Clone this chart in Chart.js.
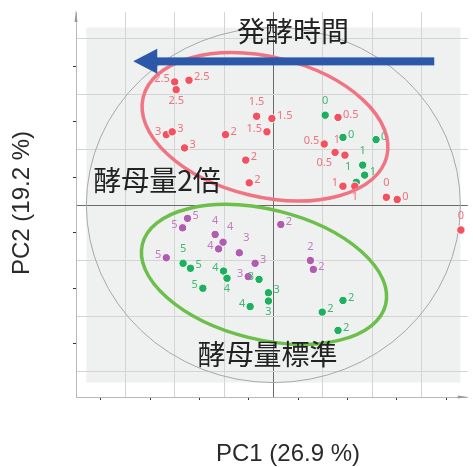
<!DOCTYPE html>
<html>
<head>
<meta charset="utf-8">
<script src="https://cdn.jsdelivr.net/npm/chart.js@4"></script>
<style>
  html, body { margin: 0; padding: 0; background: #fff; }
  #wrap { width: 473px; height: 467px; }
</style>
</head>
<body>
<div id="wrap"><canvas id="pcaChart"></canvas></div>
<script>
// PCA score plot: 酵母量2倍 (red) / 酵母量標準 (green, purple), labels = 発酵時間

// tick positions (axis units)
const xTicks = [-3.5, -3, -2.5, -2, -1.5, -1, -0.5, 0, 0.5, 1, 1.5, 2, 2.5, 3, 3.5];
const yTicks = [-3, -2.5, -2, -1.5, -1, -0.5, 0, 0.5, 1, 1.5, 2, 2.5, 3];

// 酵母量2倍
const redX = [-2.00, -1.71, -1.97, -0.34, -0.13, -0.03, -2.17, -2.05, -1.80, -0.97, -0.56, -0.49, 1.31, 1.03, 1.25, 1.45, 1.41, 1.65, 2.29, 2.51, 3.80];
const redY = [2.22, 2.25, 2.08, 1.60, 1.32, 1.56, 1.27, 1.32, 1.03, 1.27, 0.81, 0.40, 1.58, 1.10, 0.95, 0.90, 0.34, 0.34, 0.14, 0.10, -0.45];
const redLabels = ['2.5', '2.5', '2.5', '1.5', '1.5', '1.5', '3', '3', '3', '2', '2', '2', '0.5', '0.5', '0.5', '1', '1', '1', '0', '0', '0'];

// 酵母量標準 (green)
const greenX = [1.05, 1.41, 2.08, 1.81, 1.85, 1.68, -1.83, -1.68, -1.43, -1.01, -0.94, -0.47, -0.29, -0.10, -0.10, 1.41, 0.99, 1.31];
const greenY = [1.62, 1.22, 1.18, 0.72, 0.54, 0.41, -1.05, -1.14, -1.50, -1.19, -1.32, -1.83, -1.34, -1.58, -1.73, -1.72, -1.93, -2.26];
const greenLabels = ['0', '0', '0', '1', '1', '1', '5', '5', '5', '4', '4', '4', '3', '3', '3', '2', '2', '2'];

// 酵母量標準 (purple)
const purpleX = [-1.74, -1.84, -1.18, -1.02, -1.11, -0.69, -2.17, -0.37, -0.51, 0.15, 0.75, 0.81];
const purpleY = [-0.24, -0.41, -0.53, -0.67, -0.79, -0.86, -0.95, -1.05, -1.29, -0.35, -1.00, -1.16];
const purpleLabels = ['5', '5', '4', '4', '4', '3', '5', '3', '3', '2', '2', '2'];

// where each label sits relative to its point
const redSide = ['l', 'r', 'b', 't', 'l', 'r', 'l', 'r', 'r', 'r', 'r', 'r', 'r', 'l', 'bl', 'tl', 'l', 'b', 't', 'r', 't'];
const greenSide = ['t', 'r', 'r', 't', 'r', 'tl', 't', 'r', 'l', 'l', 'b', 'l', 'l', 'r', 'b', 'r', 'r', 'r'];
const purpleSide = ['r', 'l', 't', 'tr', 'l', 'tr', 'l', 'r', 'l', 'r', 't', 'r'];

const sideOffsets = {
  r: [5, -3, 'left'], l: [-5, -3, 'right'], t: [0, -14, 'center'], b: [0, 11, 'center'],
  tl: [-5, -15, 'right'], tr: [4, -15, 'left'], bl: [-3, 11, 'right']
};

const circle = { cx: 0, cy: 0, rx: 3.79, ry: 3.2 };
const ellipses = [
  { cx: -0.17, cy: 1.41, rx: 2.54, ry: 1.26, rot: 13.6, color: '#f07482' },
  { cx: -0.19, cy: -1.25, rx: 2.54, ry: 1.17, rot: 14, color: '#6dbf4b' }
];
const arrow = { x0: 3.26, x1: -2.84, y: 2.59 };
const notes = [
  { text: '発酵時間', x: 0.40, y: 3.14 },
  { text: '酵母量2倍', x: -2.36, y: 0.45 },
  { text: '酵母量標準', x: -0.12, y: -2.70 }
];

function toPoints(xs, ys) {
  return xs.map((x, i) => ({ x: x, y: ys[i] }));
}

function makeSet(label, xs, ys, color, labels, sides, labelColor) {
  return {
    label: label,
    data: toPoints(xs, ys),
    backgroundColor: color,
    borderColor: '#ffffff',
    borderWidth: 1,
    pointRadius: 4.2,
    pointLabels: labels,
    pointSides: sides,
    labelColor: labelColor
  };
}

const decorPlugin = {
  id: 'decor',
  beforeDraw(chart) {
    const { ctx, scales: { x, y } } = chart;
    // light gray panel = bounding box of the circle
    const l = x.getPixelForValue(circle.cx - circle.rx);
    const r = x.getPixelForValue(circle.cx + circle.rx);
    const t = y.getPixelForValue(circle.cy + circle.ry);
    const b = y.getPixelForValue(circle.cy - circle.ry);
    ctx.save();
    ctx.fillStyle = '#eff0f0';
    ctx.fillRect(l, t, r - l, b - t);
    ctx.restore();
  },
  beforeDatasetsDraw(chart) {
    const { ctx, scales: { x, y } } = chart;
    const px = x.getPixelForValue(circle.cx);
    const py = y.getPixelForValue(circle.cy);
    ctx.save();
    ctx.strokeStyle = '#a8a8a8';
    ctx.lineWidth = 1;
    ctx.beginPath();
    ctx.ellipse(px, py, Math.abs(x.getPixelForValue(circle.rx) - px), Math.abs(y.getPixelForValue(circle.ry) - py), 0, 0, Math.PI * 2);
    ctx.stroke();
    ctx.restore();
  },
  afterDatasetsDraw(chart) {
    const { ctx, scales: { x, y } } = chart;
    ctx.save();

    // point labels
    ctx.font = '11px "Noto Sans"';
    ctx.textBaseline = 'middle';
    chart.data.datasets.forEach(ds => {
      ctx.fillStyle = ds.labelColor;
      ds.data.forEach((p, i) => {
        const off = sideOffsets[ds.pointSides[i]];
        ctx.textAlign = off[2];
        ctx.fillText(ds.pointLabels[i], x.getPixelForValue(p.x) + off[0], y.getPixelForValue(p.y) + off[1]);
      });
    });

    // group ellipses
    ellipses.forEach(e => {
      const px = x.getPixelForValue(e.cx);
      const py = y.getPixelForValue(e.cy);
      ctx.strokeStyle = e.color;
      ctx.lineWidth = 3.5;
      ctx.beginPath();
      ctx.ellipse(px, py, Math.abs(x.getPixelForValue(e.cx + e.rx) - px), Math.abs(y.getPixelForValue(e.cy + e.ry) - py), e.rot * Math.PI / 180, 0, Math.PI * 2);
      ctx.stroke();
    });

    // fermentation-time arrow
    const ax0 = x.getPixelForValue(arrow.x0);
    const ax1 = x.getPixelForValue(arrow.x1);
    const ay = y.getPixelForValue(arrow.y);
    ctx.fillStyle = '#2b58a8';
    ctx.fillRect(ax1 + 22, ay - 4, ax0 - ax1 - 22, 8);
    ctx.beginPath();
    ctx.moveTo(ax1, ay);
    ctx.lineTo(ax1 + 24, ay - 12.5);
    ctx.lineTo(ax1 + 24, ay + 12.5);
    ctx.closePath();
    ctx.fill();

    // annotations
    ctx.fillStyle = '#222222';
    ctx.font = '28px "Noto Sans CJK JP"';
    ctx.textAlign = 'center';
    notes.forEach(n => {
      ctx.fillText(n.text, x.getPixelForValue(n.x), y.getPixelForValue(n.y));
    });
    ctx.restore();
  },
  afterDraw(chart) {
    const { ctx, chartArea: a } = chart;
    ctx.save();
    // small arrow heads at the axis ends
    ctx.fillStyle = '#9a9a9a';
    ctx.beginPath();
    ctx.moveTo(a.left, a.top - 2);
    ctx.lineTo(a.left - 1.5, a.top + 10);
    ctx.lineTo(a.left + 1.5, a.top + 10);
    ctx.closePath();
    ctx.fill();
    ctx.beginPath();
    ctx.moveTo(a.right, a.bottom);
    ctx.lineTo(a.right - 10, a.bottom - 1.5);
    ctx.lineTo(a.right - 10, a.bottom + 1.5);
    ctx.closePath();
    ctx.fill();

    // axis titles
    ctx.fillStyle = '#2a2a2a';
    ctx.font = '24px "Liberation Sans"';
    ctx.textAlign = 'center';
    ctx.textBaseline = 'middle';
    ctx.fillText('PC1 (26.9 %)', 288, 454);
    ctx.translate(22, 203);
    ctx.rotate(-Math.PI / 2);
    ctx.fillText('PC2 (19.2 %)', 0, 0);
    ctx.restore();
  }
};

function gridColor(ctx) {
  const v = ctx.tick.value;
  if (v === 0) return '#6a6a6a';
  return Number.isInteger(v) ? '#d4d4d4' : 'rgba(0,0,0,0)';
}
function tickColor(ctx) {
  return Number.isInteger(ctx.tick.value) ? 'rgba(0,0,0,0)' : '#333333';
}

new Chart(document.getElementById('pcaChart'), {
  type: 'scatter',
  data: {
    datasets: [
      makeSet('酵母量2倍', redX, redY, '#f2525f', redLabels, redSide, '#f0717b'),
      makeSet('酵母量標準', greenX, greenY, '#1fb05f', greenLabels, greenSide, '#3fb870'),
      makeSet('酵母量標準 ', purpleX, purpleY, '#b05caf', purpleLabels, purpleSide, '#c27bbf')
    ]
  },
  options: {
    responsive: true,
    maintainAspectRatio: false,
    animation: false,
    devicePixelRatio: 1,
    layout: { padding: { left: 73, top: 12, right: 0, bottom: 67 } },
    plugins: {
      legend: { display: false },
      tooltip: { enabled: false }
    },
    scales: {
      x: {
        type: 'linear',
        min: -4,
        max: 3.94,
        afterBuildTicks: scale => { scale.ticks = xTicks.map(v => ({ value: v })); },
        ticks: { display: false },
        grid: { color: gridColor, tickColor: tickColor, tickLength: 3, lineWidth: 1 },
        border: { display: true, color: '#b8b8b8', width: 1 }
      },
      y: {
        type: 'linear',
        min: -3.46,
        max: 3.48,
        afterBuildTicks: scale => { scale.ticks = yTicks.map(v => ({ value: v })); },
        ticks: { display: false },
        grid: { color: gridColor, tickColor: tickColor, tickLength: 3, lineWidth: 1 },
        border: { display: true, color: '#b8b8b8', width: 1 }
      }
    }
  },
  plugins: [decorPlugin]
});
</script>
</body>
</html>
